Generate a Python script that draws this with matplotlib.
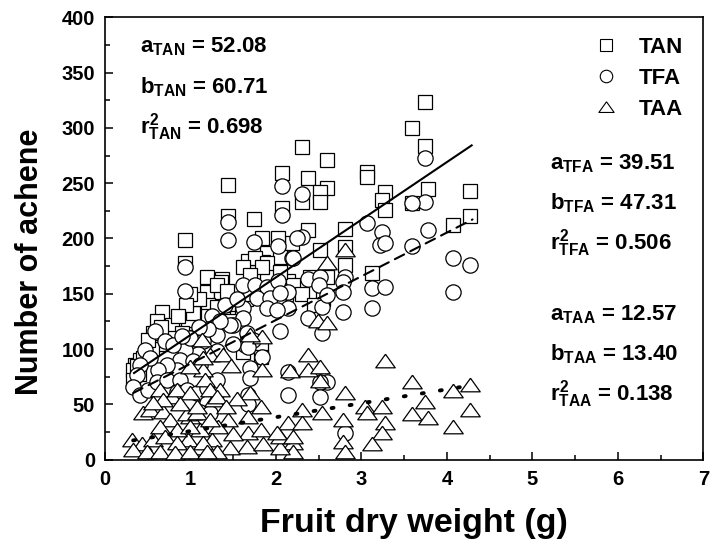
import numpy as np
import matplotlib
matplotlib.use("Agg")
import matplotlib.pyplot as plt
from matplotlib.lines import Line2D

plt.rcParams["font.family"] = ["Liberation Sans", "DejaVu Sans"]
plt.rcParams["font.weight"] = "bold"
plt.rcParams["mathtext.fontset"] = "custom"
plt.rcParams["mathtext.rm"] = "Liberation Sans:bold"
plt.rcParams["mathtext.it"] = "Liberation Sans:bold"
plt.rcParams["mathtext.bf"] = "Liberation Sans:bold"

# fruit dry weight (g) / number of achenes
tan_x = [3.75, 3.59, 3.75, 2.31, 2.60, 3.07, 3.07, 2.37, 2.07, 2.60, 2.52, 2.52, 2.31,
         3.28, 3.24, 3.28, 3.78, 3.59, 4.27, 4.27, 4.07, 2.07, 2.37, 2.81, 2.81, 2.52,
         2.19, 3.13, 2.81, 1.44, 1.44, 1.74, 0.94, 0.94, 1.84, 2.03, 1.90, 1.67, 1.85,
         1.73, 2.05, 1.19, 1.37, 1.76, 1.90, 1.62, 1.84, 1.70, 1.36, 1.19, 1.36, 2.14,
         1.21, 0.67, 0.97, 0.61, 0.78, 0.56, 0.90, 0.35, 0.33, 0.41, 0.49, 0.33, 1.03,
         1.08, 1.31, 1.31, 2.20, 1.72, 1.82, 1.82, 1.62, 1.43, 1.50, 1.55, 1.60, 1.45,
         1.65, 1.70, 1.20, 1.10, 1.00, 0.95, 0.85, 0.75, 0.70, 0.65, 0.55, 0.50, 0.45,
         0.40, 0.38, 2.60, 2.55, 2.30, 2.40, 2.45, 2.05, 2.12]
tan_y = [323, 300, 284, 283, 271, 260, 256, 255, 259, 246, 242, 233, 233,
         242, 235, 226, 245, 232, 243, 220, 212, 228, 208, 209, 192, 190,
         196, 169, 176, 248, 220, 218, 199, 178, 200, 200, 187, 180, 179,
         170, 183, 165, 163, 182, 178, 174, 174, 167, 161, 152, 152, 162,
         140, 134, 126, 125, 122, 115, 115, 86, 81, 90, 95, 72, 133,
         111, 158, 138, 158, 107, 102, 93, 97, 153, 140, 128, 135, 125,
         145, 150, 130, 145, 150, 140, 130, 110, 105, 120, 100, 108, 92,
         78, 85, 165, 145, 150, 165, 140, 170, 150]

tfa_x = [3.75, 2.07, 2.31, 2.07, 3.07, 3.24, 3.75, 3.59, 3.78, 3.22, 3.28, 3.59, 2.31,
         2.19, 4.07, 4.27, 2.37, 2.52, 2.81, 4.07, 2.50, 2.79, 2.05, 2.14, 2.79, 3.13,
         3.28, 3.13, 2.79, 2.37, 2.54, 2.60, 2.05, 2.14, 2.05, 2.54, 2.60, 2.52, 2.52,
         2.14, 2.81, 1.44, 1.44, 1.74, 0.94, 0.94, 2.03, 2.20, 2.25, 1.62, 1.76, 1.90,
         2.03, 1.78, 1.93, 2.05, 1.90, 2.01, 1.62, 1.62, 1.50, 1.66, 1.73, 1.64, 1.84,
         1.70, 1.70, 1.67, 1.67, 2.14, 1.46, 1.31, 1.15, 1.31, 1.09, 0.94, 0.88, 1.03,
         1.11, 0.84, 0.73, 0.62, 0.59, 0.70, 0.80, 0.47, 0.53, 0.41, 0.37, 0.33, 0.41,
         0.50, 0.61, 0.73, 0.88, 0.84, 0.96, 1.08, 1.19, 1.31, 1.19, 1.31, 1.11, 1.23,
         1.25, 1.35, 1.40, 1.20, 1.10, 1.00, 0.90, 1.50, 1.55, 1.67]
tfa_y = [273, 247, 240, 221, 214, 206, 233, 232, 208, 194, 196, 193, 201,
         182, 182, 176, 163, 165, 165, 152, 158, 161, 155, 152, 152, 155,
         156, 137, 134, 128, 138, 149, 140, 137, 116, 115, 70, 70, 57,
         59, 24, 215, 199, 197, 174, 153, 193, 182, 200, 158, 158, 156,
         162, 146, 146, 151, 137, 135, 137, 128, 122, 115, 108, 104, 93,
         83, 74, 59, 50, 79, 122, 113, 107, 98, 96, 99, 90, 89,
         86, 81, 86, 81, 116, 107, 104, 99, 92, 86, 77, 66, 59,
         63, 70, 72, 72, 61, 63, 60, 65, 61, 51, 72, 43, 42,
         130, 125, 140, 118, 120, 110, 112, 105, 145, 102]

taa_x = [2.37, 3.28, 2.17, 2.37, 2.52, 2.52, 3.59, 4.27, 4.07, 2.81, 3.75, 3.04, 3.24,
         2.31, 2.54, 3.59, 3.78, 4.27, 2.79, 2.14, 2.31, 3.28, 4.07, 3.24, 3.07, 2.79,
         2.81, 3.13, 2.20, 2.20, 2.05, 2.05, 2.81, 2.60, 2.49, 2.60, 1.84, 1.70, 1.84,
         1.70, 1.82, 1.67, 1.67, 1.82, 1.66, 1.85, 2.01, 2.20, 1.14, 1.23, 1.15, 1.35,
         1.17, 1.27, 1.00, 1.44, 1.32, 1.50, 1.11, 1.25, 0.97, 1.46, 1.11, 1.31, 0.64,
         0.78, 0.45, 0.53, 0.68, 0.76, 0.96, 1.08, 1.23, 0.64, 0.84, 1.00, 0.32, 0.43,
         0.56, 0.70, 0.84, 1.15, 0.33, 0.49, 0.64, 0.82, 0.99, 1.19, 1.15, 1.00, 0.84,
         1.00, 1.23, 1.31, 1.08, 0.88, 0.68, 0.56, 1.38, 1.48, 1.55, 1.42]
taa_y = [95, 89, 80, 81, 84, 71, 70, 68, 62, 60, 52, 48, 48,
         45, 42, 41, 38, 45, 36, 33, 33, 33, 30, 24, 42, 16,
         7, 14, 15, 7, 11, 21, 190, 178, 125, 124, 111, 113, 81,
         60, 48, 39, 24, 27, 12, 14, 24, 21, 108, 95, 81, 63,
         72, 54, 39, 36, 30, 23, 27, 18, 18, 11, 11, 7, 63,
         57, 42, 45, 43, 36, 41, 42, 36, 30, 27, 30, 18, 14,
         18, 21, 15, 15, 9, 7, 7, 6, 7, 7, 92, 84, 63,
         60, 63, 57, 48, 50, 54, 51, 95, 85, 55, 48]

# regression y = a*x + b
names = ["TAN", "TFA", "TAA"]
slopes = [52.08, 39.51, 12.57]
intercepts = [60.71, 47.31, 13.40]
r2 = [0.698, 0.506, 0.138]
fit_range = [0.33, 4.3]

fig, ax = plt.subplots(figsize=(7.14, 5.54), dpi=100)
fig.subplots_adjust(left=0.147, right=0.985, bottom=0.170, top=0.969)

tri = [(0, 0.75), (-1, -0.65), (1, -0.65), (0, 0.75)]
ax.plot(tan_x, tan_y, "s", ms=10, mfc="white", mec="black", mew=0.9, ls="none", zorder=2)
ax.plot(tfa_x, tfa_y, "o", ms=11, mfc="white", mec="black", mew=0.9, ls="none", zorder=3)
ax.plot(taa_x, taa_y, marker=tri, ms=14, mfc="white", mec="black", mew=0.9, ls="none", zorder=4)

xs = np.array(fit_range)
styles = ["-", (0, (5, 3.3)), (0, (0.5, 4.2))]
widths = [1.5, 1.5, 2.8]
for a, b, st, lw in zip(slopes, intercepts, styles, widths):
    ax.plot(xs, a * xs + b, color="black", ls=st, lw=lw, solid_capstyle="butt",
            dash_capstyle="round", zorder=5)

ax.set_xlim(0, 7)
ax.set_ylim(0, 400)
ax.set_xticks(np.arange(0, 8, 1))
ax.set_xticks(np.arange(0.5, 7, 1), minor=True)
ax.set_yticks(np.arange(0, 401, 50))
ax.set_yticks(np.arange(25, 400, 50), minor=True)
ax.tick_params(which="both", direction="in", top=False, right=False, width=1.1)
ax.tick_params(which="major", length=6, labelsize=14.5, pad=7)
ax.tick_params(which="minor", length=3.5)
for s in ax.spines.values():
    s.set_linewidth(1.2)

ax.set_xlabel("Fruit dry weight (g)", fontsize=24.5, fontweight="bold")
ax.set_ylabel("Number of achene", fontsize=22, fontweight="bold")
ax.xaxis.set_label_coords(0.517, -0.108)
ax.yaxis.set_label_coords(-0.100, 0.447)

# fit parameters
def block(x, y0, k, ha="left"):
    lines = [r"$a_{\mathrm{%s}}$ = %.2f" % (names[k], slopes[k]),
             r"$b_{\mathrm{%s}}$ = %.2f" % (names[k], intercepts[k]),
             r"$r^{2}_{\mathrm{%s}}$ = %.3f" % (names[k], r2[k])]
    for i, t in enumerate(lines):
        ax.text(x, y0 - i * 36, t, fontsize=16, fontweight="bold", ha=ha, va="center")

block(0.41, 373, 0)
block(5.21, 268, 1)
block(5.21, 131, 2)

handles = [Line2D([], [], marker="s", ms=8, mfc="white", mec="black", mew=0.8, ls="none"),
           Line2D([], [], marker="o", ms=9, mfc="white", mec="black", mew=0.8, ls="none"),
           Line2D([], [], marker=tri, ms=11, mfc="white", mec="black", mew=0.8, ls="none")]
leg = ax.legend(handles, names, loc="upper right", frameon=False,
                prop={"size": 16, "weight": "bold"}, handletextpad=0.5,
                labelspacing=0.45, borderaxespad=0.5, bbox_to_anchor=(1.0, 1.0))

fig.savefig("out.png", dpi=100)
